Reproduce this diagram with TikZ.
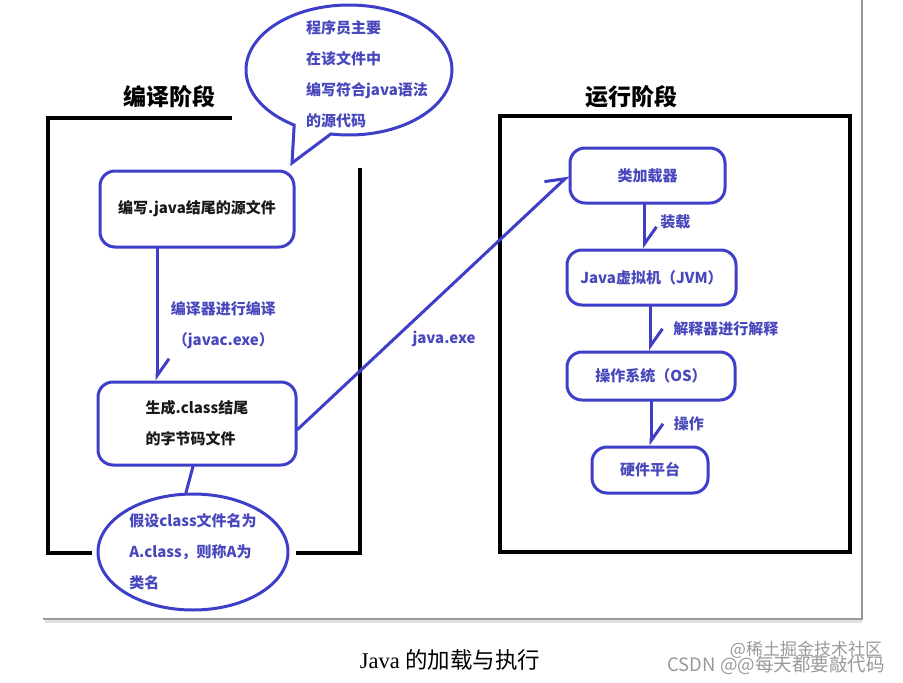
\documentclass[tikz,border=0pt]{standalone}
\usepackage{fontspec}
\setmainfont{Noto Sans CJK SC}
\newfontfamily\capfont{Liberation Serif}
\usetikzlibrary{shapes.geometric,shapes.callouts,arrows.meta}

\definecolor{penblue}{RGB}{62,62,200}
\definecolor{inkblue}{RGB}{72,72,188}
\definecolor{inkblack}{RGB}{25,25,25}

\tikzset{
  frame/.style={draw=black, line width=3.5pt},
  title/.style={text=black, font=\bfseries\fontsize{23}{26}\selectfont},
  stagebox/.style={draw=penblue, line width=3pt, rounded corners=15pt, fill=white, inner sep=0pt, align=left},
  lbl/.style={text=inkblue, font=\bfseries\fontsize{15}{31}\selectfont, align=left},
  blk/.style={text=inkblack, font=\bfseries\fontsize{15}{31}\selectfont},
  flow/.style={draw=penblue, line width=3pt, line cap=round,
    -{Straight Barb[harpoon,length=17pt,width=24pt]}},
  link/.style={draw=penblue, line width=3pt, line cap=round},
}

\begin{document}
\begin{tikzpicture}[x=1pt,y=-1pt]
  \useasboundingbox (0,0) rectangle (903,683);

  % paper edge
  \draw[black!12, line width=4pt] (45,621) -- (862,621);
  \draw[black!40, line width=1.2pt] (862,0) -- (862,619) -- (43,619);

  % compile stage
  \draw[frame] (232,118) -- (48,118) -- (48,553) -- (92,553);
  \draw[frame] (296,553) -- (360,553) -- (360,168);
  \node[title] (comptitle) at (169,97) {编译阶段};

  \node[ellipse callout, draw=penblue, line width=3pt, fill=white,
        minimum width=206pt, minimum height=130pt, inner sep=0pt,
        callout absolute pointer={(292,163)}, callout pointer arc=22] (tipbubble) at (349,70) {};
  \node[lbl] (tiptext) at (367,74) {程序员主要\\在该文件中\\编写符合java语法\\的源代码};

  \node[stagebox, blk, minimum width=194pt, minimum height=76pt] (srcbox) at (197,209) {编写.java结尾的源文件};
  \node[stagebox, blk, minimum width=198pt, minimum height=83pt] (clsbox) at (197,423.5) {生成.class结尾\\的字节码文件};
  \node[ellipse, draw=penblue, line width=3pt, fill=white, inner sep=0pt,
        minimum width=190pt, minimum height=116pt, lbl] (namenote) at (193,552) {假设class文件名为\\A.class，则称A为\\类名};

  \draw[flow] ([xshift=-40pt]srcbox.south) -- ([xshift=-40pt]srcbox.south |- clsbox.north)
    node[midway, lbl, right=9pt, yshift=-11pt, align=center] (javac) {编译器进行编译\\（javac.exe）};
  \draw[link] ([xshift=-4pt]clsbox.south) -- ([xshift=-7pt]namenote.north);

  % run stage
  \draw[frame] (500,116) rectangle (850,552);
  \node[title] (runtitle) at (631,97) {运行阶段};

  \node[stagebox, lbl, minimum width=155pt, minimum height=55pt] (loader) at (647.5,175.5) {类加载器};
  \node[stagebox, lbl, minimum width=169pt, minimum height=55pt] (jvm) at (651.5,277.5) {Java虚拟机（JVM）};
  \node[stagebox, lbl, minimum width=168pt, minimum height=48pt] (os) at (651,376) {操作系统（OS）};
  \node[stagebox, lbl, minimum width=116pt, minimum height=46pt] (hw) at (650,470) {硬件平台};

  \draw[flow] ([xshift=-3pt]loader.south) -- ([xshift=-3pt]loader.south |- jvm.north)
    node[midway, lbl, right=11pt, yshift=5pt] (loadlbl) {装载};
  \draw[flow] ([xshift=-1pt]jvm.south) -- ([xshift=-1pt]jvm.south |- os.north)
    node[midway, lbl, right=18pt] (interplbl) {解释器进行解释};
  \draw[flow] (os.south) -- (os.south |- hw.north)
    node[midway, lbl, right=18pt] (oplbl) {操作};

  \draw[flow] ([yshift=-6pt]clsbox.east) -- (loader.west);
  \node[lbl] (javaexe) at (444,339) {java.exe};

  % caption and marks
  \node[text=black, font=\fontsize{22.5}{26}\selectfont] (caption) at (450,660) {{\capfont Java} 的加载与执行};
  \node[text=black!40, font=\fontsize{17}{20}\selectfont] (mark1) at (806,650) {@稀土掘金技术社区};
  \node[text=black!40, font=\fontsize{18.5}{20}\selectfont] (mark2) at (776,665) {CSDN @@每天都要敲代码};
\end{tikzpicture}
\end{document}
